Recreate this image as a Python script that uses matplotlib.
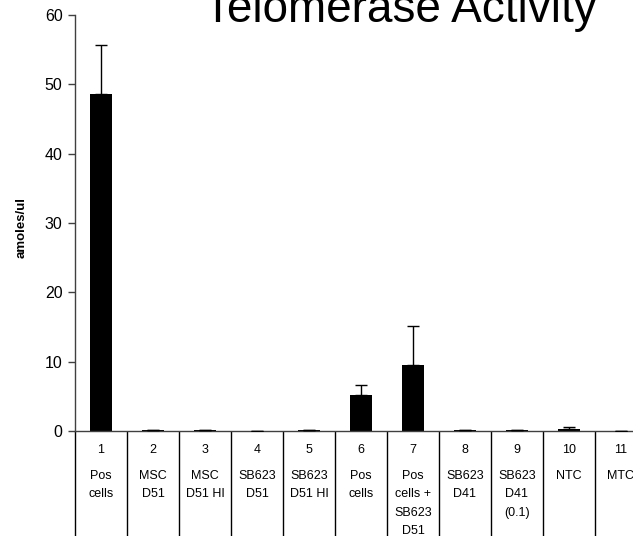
import matplotlib.pyplot as plt
import numpy as np

plt.rcParams['font.family'] = ['Liberation Sans', 'DejaVu Sans']

# lane numbers, sample names and measured activity
lanes = ['1', '2', '3', '4', '5', '6', '7', '8', '9', '10', '11']
samples = ['Pos\ncells', 'MSC\nD51', 'MSC\nD51 HI', 'SB623\nD51', 'SB623\nD51 HI',
           'Pos\ncells', 'Pos\ncells +\nSB623\nD51', 'SB623\nD41', 'SB623\nD41\n(0.1)',
           'NTC', 'MTC']
activity = [48.6, 0.1, 0.1, 0.05, 0.1, 5.2, 9.5, 0.1, 0.1, 0.3, 0.05]
error = [7.1, 0.0, 0.0, 0.0, 0.0, 1.5, 5.6, 0.0, 0.0, 0.25, 0.0]

W, H = 633, 536
fig = plt.figure(figsize=(W / 100, H / 100), dpi=100)

# plot area in pixels: y axis at x=75, zero line at y=431, top at y=15
x0, y0, ytop, cell = 75, 431, 15, 52
ax = fig.add_axes([x0 / W, (H - y0) / H, cell * len(lanes) / W, (y0 - ytop) / H])

x = np.arange(len(lanes))
ax.bar(x, activity, width=0.44, color='black', zorder=2)
ax.errorbar(x, activity, yerr=[np.zeros(len(error)), error], fmt='none',
            ecolor='black', elinewidth=1, capsize=4.5, capthick=1, zorder=3)

ax.set_xlim(-0.5, len(lanes) - 0.5)
ax.set_ylim(0, 60)
ax.set_yticks(range(0, 61, 10))
ax.set_xticks([])
ax.tick_params(axis='y', direction='out', length=5, width=1, color='#404040',
               labelsize=11.5, pad=4)
for side in ['top', 'right']:
    ax.spines[side].set_visible(False)
for side in ['left', 'bottom']:
    ax.spines[side].set_color('#404040')
    ax.spines[side].set_linewidth(1)

# table of lanes under the axis
trans = ax.get_xaxis_transform()
px = 1 / (y0 - ytop)
ax.vlines(np.arange(len(lanes) + 1) - 0.5, -(H - y0 + 5) * px, 0,
          transform=trans, colors='black', linewidth=1, clip_on=False)
for i in range(len(lanes)):
    ax.text(i, -19 * px, lanes[i], transform=trans, ha='center', va='center',
            fontsize=9)
    ax.text(i, -39 * px, samples[i], transform=trans, ha='center', va='top',
            fontsize=9, linespacing=1.7)

fig.text(400 / W, 1 - 22 / H, 'Telomerase Activity', ha='center', va='baseline',
         fontsize=33)
fig.text(22 / W, 1 - 227 / H, 'amoles/ul', rotation=90, ha='center', va='center',
         fontsize=9.5, fontweight='bold')

fig.savefig('out.png', dpi=100)
